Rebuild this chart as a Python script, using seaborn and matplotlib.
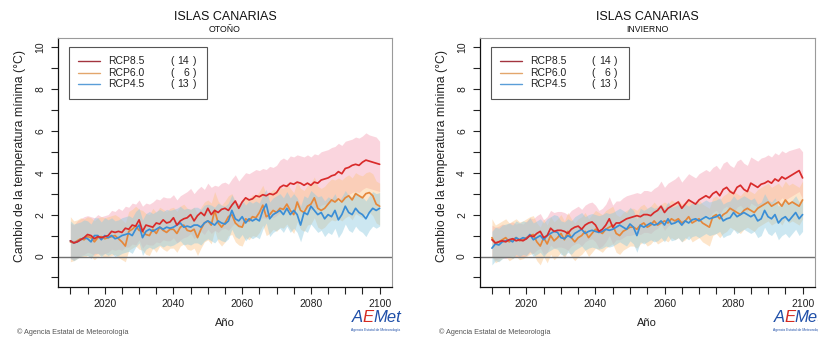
import numpy as np
import pandas as pd
import matplotlib
matplotlib.use("Agg")
import matplotlib.pyplot as plt
import seaborn as sns
from matplotlib.patches import Rectangle
from matplotlib.lines import Line2D

# ------------------------------------------------------------------ data
years = list(range(2010, 2101))
region = "ISLAS CANARIAS"
seasons = ["OTOÑO", "INVIERNO"]
scenarios = ["RCP8.5", "RCP6.0", "RCP4.5"]
n_models = [14, 6, 13]
x_ticks = [2020, 2040, 2060, 2080, 2100]
y_ticks = [0, 2, 4, 6, 8, 10]

# ---- OTOÑO (left)
m85_oto = [0.75,0.65,0.70,0.80,0.90,1.05,1.00,0.85,0.95,0.90,
           0.95,1.00,1.20,1.15,1.20,1.15,1.35,1.30,1.50,1.45,
           1.75,1.20,1.50,1.45,1.40,1.60,1.55,1.75,1.60,1.65,
           1.85,1.50,1.70,1.80,1.85,2.00,1.70,1.95,2.10,1.95,
           2.30,2.00,2.20,2.10,2.25,2.30,2.20,2.45,2.65,2.30,
           2.60,2.80,2.70,2.75,2.90,2.85,2.95,2.90,3.00,2.95,
           3.05,3.30,3.40,3.35,3.50,3.45,3.55,3.50,3.40,3.50,
           3.40,3.55,3.50,3.65,3.70,3.75,3.85,3.90,4.05,3.95,
           4.20,4.25,4.35,4.40,4.35,4.50,4.60,4.55,4.50,4.45,
           4.40]
m60_oto = [0.70,0.65,0.75,0.85,0.80,0.95,0.90,0.70,0.90,0.95,
           0.85,0.90,0.95,1.00,0.85,0.70,0.50,1.20,1.30,1.45,
           1.25,1.20,1.05,1.00,1.30,1.10,1.40,1.25,1.15,1.30,
           1.30,1.10,1.40,1.50,1.25,1.20,1.30,0.90,1.30,1.60,
           1.70,1.50,2.20,1.60,1.40,1.60,1.90,2.00,1.60,1.45,
           1.40,1.80,1.70,1.90,1.85,2.10,2.45,1.90,2.00,2.20,
           2.10,2.30,2.25,2.50,2.20,2.00,2.60,2.20,2.10,2.40,
           2.50,2.80,2.30,2.20,2.30,2.50,2.70,2.60,2.75,2.60,
           2.80,2.90,2.70,3.00,2.90,2.80,3.00,3.05,2.90,2.50,
           2.40]
m45_oto = [0.75,0.65,0.70,0.80,0.90,0.85,0.70,1.00,1.00,0.80,
           1.00,0.90,1.00,0.85,0.90,1.00,1.05,1.10,1.00,1.30,
           1.50,0.90,1.20,1.30,1.20,1.30,1.40,1.30,1.40,1.35,
           1.40,1.50,1.60,1.40,1.45,1.40,1.50,1.50,1.40,1.60,
           1.70,1.60,1.50,1.70,1.60,1.55,1.70,2.20,1.80,1.70,
           1.90,1.60,1.80,1.70,1.80,1.70,2.20,2.50,1.80,2.00,
           2.10,2.20,2.00,2.30,2.00,2.20,2.00,1.50,2.10,2.00,
           2.40,2.20,2.00,2.10,1.80,2.00,1.90,2.20,1.75,2.00,
           2.40,2.10,2.00,2.30,2.10,2.00,1.80,2.10,2.30,2.20,
           2.30]
hi85_oto = [1.60,1.50,1.70,1.80,1.90,1.95,1.90,1.85,2.00,1.90,
            1.95,2.00,2.20,2.15,2.30,2.20,2.40,2.35,2.55,2.50,
            2.70,2.40,2.55,2.50,2.60,2.75,2.70,2.85,2.80,2.80,
            2.95,2.70,2.90,3.00,3.10,3.25,3.00,3.20,3.35,3.20,
            3.50,3.30,3.40,3.35,3.50,3.55,3.45,3.70,3.90,3.60,
            3.80,4.00,3.95,4.05,4.15,4.10,4.20,4.15,4.30,4.25,
            4.35,4.60,4.70,4.60,4.80,4.75,4.85,4.80,4.75,4.85,
            4.75,4.90,4.85,5.00,5.05,5.10,5.20,5.25,5.40,5.30,
            5.50,5.55,5.60,5.70,5.65,5.75,5.90,5.80,5.75,5.70,
            5.50]
lo85_oto = [-0.10,-0.15,-0.05,0.05,0.10,0.20,0.15,0.05,0.15,0.10,
            0.15,0.20,0.35,0.30,0.35,0.30,0.45,0.45,0.60,0.55,
            0.80,0.40,0.60,0.55,0.55,0.70,0.65,0.80,0.75,0.75,
            0.90,0.65,0.80,0.90,0.95,1.10,0.85,1.05,1.20,1.05,
            1.30,1.10,1.25,1.15,1.30,1.35,1.25,1.45,1.60,1.35,
            1.55,1.70,1.65,1.70,1.80,1.75,1.85,1.80,1.90,1.85,
            1.95,2.10,2.20,2.15,2.30,2.25,2.35,2.30,2.20,2.30,
            2.20,2.35,2.30,2.45,2.50,2.50,2.60,2.65,2.80,2.70,
            2.90,2.95,3.05,3.10,3.05,3.20,3.30,3.25,3.20,3.15,
            3.10]
hi60_oto = [1.90,1.70,1.75,1.85,1.80,1.90,1.85,1.70,1.85,1.90,
            1.85,1.90,1.95,2.00,1.90,1.75,1.60,2.15,2.25,2.40,
            2.25,2.20,2.05,2.00,2.30,2.10,2.35,2.25,2.15,2.30,
            2.35,2.15,2.40,2.50,2.30,2.25,2.35,2.00,2.35,2.60,
            2.70,2.55,3.10,2.65,2.45,2.65,2.90,3.00,2.65,2.50,
            2.50,2.85,2.75,2.95,2.90,3.10,3.40,2.95,3.05,3.20,
            3.15,3.30,3.25,3.50,3.25,3.05,3.60,3.25,3.15,3.40,
            3.50,3.80,3.35,3.25,3.35,3.55,3.70,3.65,3.75,3.65,
            3.80,3.90,3.75,4.00,3.90,3.85,4.00,4.05,3.95,3.60,
            3.50]
lo60_oto = [-0.25,-0.20,-0.10,0.00,-0.05,0.05,0.00,-0.15,0.00,0.05,
            -0.05,0.00,0.05,0.10,-0.05,-0.15,-0.25,0.30,0.40,0.50,
            0.35,0.30,0.10,0.05,0.40,0.20,0.50,0.35,0.25,0.40,
            0.40,0.20,0.50,0.60,0.35,0.30,0.40,0.05,0.40,0.70,
            0.80,0.60,1.25,0.70,0.50,0.70,1.00,1.05,0.70,0.55,
            0.50,0.90,0.80,1.00,0.95,1.15,1.50,1.00,1.10,1.30,
            1.20,1.40,1.35,1.55,1.30,1.10,1.65,1.30,1.20,1.50,
            1.55,1.85,1.40,1.30,1.40,1.60,1.75,1.70,1.80,1.70,
            1.85,1.95,1.75,2.05,1.95,1.85,2.05,2.10,1.95,1.60,
            1.50]
hi45_oto = [1.70,1.55,1.60,1.65,1.75,1.70,1.55,1.85,1.85,1.65,
            1.85,1.75,1.85,1.70,1.75,1.85,1.90,1.95,1.85,2.15,
            2.30,1.75,2.05,2.15,2.05,2.15,2.25,2.15,2.25,2.20,
            2.25,2.30,2.40,2.25,2.30,2.25,2.35,2.35,2.25,2.45,
            2.50,2.45,2.35,2.55,2.45,2.40,2.55,2.95,2.60,2.50,
            2.70,2.45,2.65,2.55,2.65,2.55,2.95,3.20,2.60,2.80,
            2.90,3.00,2.80,3.10,2.80,3.00,2.80,2.40,2.90,2.80,
            3.15,3.00,2.85,2.90,2.65,2.85,2.75,3.00,2.60,2.85,
            3.15,2.90,2.85,3.10,2.90,2.85,2.65,2.90,3.10,3.00,
            3.05]
lo45_oto = [-0.10,-0.20,-0.10,0.00,0.05,0.05,-0.10,0.15,0.15,0.00,
            0.15,0.05,0.15,0.00,0.05,0.15,0.20,0.25,0.15,0.45,
            0.65,0.05,0.35,0.45,0.35,0.45,0.55,0.45,0.55,0.50,
            0.55,0.65,0.75,0.55,0.60,0.55,0.65,0.65,0.55,0.75,
            0.85,0.75,0.65,0.85,0.75,0.70,0.85,1.30,0.95,0.85,
            1.05,0.75,0.95,0.85,0.95,0.85,1.30,1.60,0.95,1.15,
            1.25,1.35,1.15,1.45,1.15,1.35,1.15,0.70,1.25,1.15,
            1.55,1.35,1.15,1.25,0.95,1.15,1.05,1.35,0.90,1.15,
            1.55,1.25,1.15,1.45,1.25,1.15,0.95,1.25,1.45,1.35,
            1.45]

# ---- INVIERNO (right)
m85_inv = [0.80,0.65,0.70,0.75,0.70,0.80,0.85,0.75,0.80,0.75,
           0.85,1.00,0.95,1.10,1.20,0.90,1.00,1.35,1.20,1.25,
           1.25,1.20,1.10,1.30,1.40,1.45,1.30,1.50,1.60,1.65,
           1.50,1.20,1.30,1.50,1.80,1.40,1.60,1.60,1.70,1.80,
           1.85,1.90,1.95,1.90,2.00,2.00,1.95,2.10,2.20,2.40,
           2.10,2.30,2.40,2.50,2.60,2.30,2.50,2.70,2.60,2.50,
           2.70,2.80,2.90,2.80,3.00,3.10,2.90,3.20,3.30,3.10,
           3.00,3.30,3.40,3.20,3.10,3.50,3.40,3.30,3.45,3.50,
           3.60,3.50,3.70,3.60,3.80,3.70,3.80,3.90,4.00,4.10,
           3.75]
m60_inv = [0.90,0.60,0.70,0.80,0.90,0.70,0.80,0.90,0.75,0.80,
           0.90,1.00,1.05,0.70,0.50,0.90,0.60,1.00,0.75,0.90,
           1.10,0.80,1.20,0.90,0.70,0.90,1.00,1.20,0.90,1.10,
           1.30,1.20,1.10,1.30,1.40,1.50,1.10,1.00,1.20,1.30,
           1.40,1.40,1.30,1.50,1.60,1.40,1.50,1.70,1.50,1.60,
           1.70,1.60,1.80,1.70,1.80,1.60,1.70,1.90,1.60,1.70,
           1.80,1.60,1.50,1.40,1.90,2.00,1.80,2.00,2.10,2.30,
           2.20,2.10,2.00,2.20,2.30,2.20,2.10,2.30,2.40,2.50,
           2.60,2.40,2.50,2.60,2.40,2.70,2.50,2.60,2.50,2.40,
           2.70]
m45_inv = [0.40,0.60,0.55,0.70,0.75,0.80,0.70,0.90,0.80,0.90,
           0.85,1.05,0.80,0.90,1.00,0.80,1.00,1.10,1.20,1.15,
           0.90,0.85,1.00,0.90,1.10,1.20,1.30,1.10,1.20,1.25,
           1.20,1.15,1.20,1.30,1.25,1.30,1.40,1.50,1.40,1.30,
           1.55,1.40,1.00,1.50,1.40,1.50,1.60,1.50,1.55,1.70,
           1.50,1.80,1.55,1.60,1.70,1.50,1.70,1.60,1.75,1.80,
           1.70,1.80,1.90,1.80,1.85,1.90,2.00,1.70,1.80,1.85,
           2.10,1.90,2.00,2.10,2.00,1.90,2.00,1.70,1.80,2.20,
           1.90,1.80,2.00,1.60,1.80,1.90,1.70,1.90,2.10,1.80,
           2.00]
hi85_inv = [1.50,1.40,1.45,1.55,1.50,1.60,1.65,1.55,1.60,1.55,
            1.70,1.85,1.80,1.95,2.05,1.75,1.90,2.20,2.10,2.15,
            2.15,2.10,2.00,2.20,2.30,2.40,2.25,2.45,2.55,2.60,
            2.45,2.20,2.30,2.50,2.85,2.45,2.65,2.65,2.80,2.90,
            2.95,3.00,3.05,3.00,3.15,3.15,3.10,3.25,3.35,3.60,
            3.30,3.50,3.60,3.70,3.85,3.55,3.75,3.95,3.85,3.75,
            3.95,4.05,4.15,4.05,4.25,4.35,4.15,4.45,4.55,4.35,
            4.25,4.55,4.65,4.45,4.35,4.75,4.65,4.55,4.70,4.75,
            4.85,4.75,4.95,4.85,5.05,4.95,5.05,5.10,5.15,5.20,
            5.00]
lo85_inv = [0.00,-0.15,-0.10,-0.05,-0.10,0.00,0.05,-0.05,0.00,-0.05,
            0.05,0.20,0.15,0.30,0.40,0.10,0.20,0.55,0.40,0.45,
            0.45,0.40,0.30,0.50,0.60,0.65,0.50,0.70,0.80,0.85,
            0.70,0.40,0.50,0.70,1.00,0.60,0.80,0.80,0.90,1.00,
            1.00,1.05,1.10,1.05,1.15,1.15,1.10,1.25,1.35,1.55,
            1.25,1.45,1.55,1.65,1.75,1.45,1.65,1.85,1.75,1.65,
            1.80,1.90,2.00,1.90,2.10,2.20,2.00,2.30,2.40,2.20,
            2.05,2.35,2.45,2.25,2.15,2.55,2.45,2.35,2.50,2.55,
            2.60,2.50,2.70,2.60,2.80,2.70,2.80,2.90,3.00,3.10,
            2.75]
hi60_inv = [1.80,1.50,1.60,1.70,1.80,1.60,1.70,1.80,1.65,1.70,
            1.80,1.90,1.95,1.60,1.40,1.80,1.50,1.90,1.65,1.80,
            2.00,1.70,2.10,1.80,1.60,1.80,1.90,2.10,1.80,2.00,
            2.20,2.10,2.00,2.20,2.30,2.40,2.00,1.90,2.10,2.20,
            2.30,2.30,2.20,2.40,2.50,2.30,2.40,2.60,2.40,2.50,
            2.60,2.50,2.70,2.60,2.70,2.50,2.60,2.80,2.50,2.60,
            2.70,2.50,2.40,2.30,2.80,2.90,2.70,2.90,3.00,3.20,
            3.10,3.00,2.90,3.10,3.20,3.10,3.00,3.20,3.30,3.40,
            3.50,3.30,3.40,3.50,3.30,3.60,3.40,3.50,3.40,3.30,
            3.60]
lo60_inv = [0.00,-0.30,-0.20,-0.10,0.00,-0.20,-0.10,0.00,-0.15,-0.10,
            0.00,0.10,0.15,-0.20,-0.40,0.00,-0.30,0.10,-0.15,0.00,
            0.20,-0.10,0.30,0.00,-0.20,0.00,0.10,0.30,0.00,0.20,
            0.40,0.30,0.20,0.40,0.50,0.60,0.20,0.10,0.30,0.40,
            0.50,0.50,0.40,0.60,0.70,0.50,0.60,0.80,0.60,0.70,
            0.80,0.70,0.90,0.80,0.90,0.70,0.80,1.00,0.70,0.80,
            0.90,0.70,0.60,0.50,1.00,1.10,0.90,1.10,1.20,1.40,
            1.30,1.20,1.10,1.30,1.40,1.30,1.20,1.40,1.50,1.60,
            1.70,1.50,1.60,1.70,1.50,1.80,1.60,1.70,1.60,1.50,
            1.80]
hi45_inv = [1.20,1.40,1.35,1.50,1.55,1.60,1.50,1.70,1.60,1.70,
            1.65,1.85,1.60,1.70,1.80,1.60,1.80,1.90,2.00,1.95,
            1.70,1.65,1.80,1.70,1.90,2.00,2.10,1.90,2.00,2.05,
            2.00,1.95,2.00,2.10,2.05,2.10,2.20,2.30,2.20,2.10,
            2.35,2.20,1.80,2.30,2.20,2.30,2.40,2.30,2.35,2.50,
            2.30,2.60,2.35,2.40,2.50,2.30,2.50,2.40,2.55,2.60,
            2.50,2.60,2.70,2.60,2.65,2.70,2.80,2.50,2.60,2.65,
            2.90,2.70,2.80,2.90,2.80,2.70,2.80,2.50,2.60,3.00,
            2.70,2.60,2.80,2.40,2.60,2.70,2.50,2.70,2.90,2.60,
            2.80]
lo45_inv = [-0.40,-0.20,-0.25,-0.10,-0.05,0.00,-0.10,0.10,0.00,0.10,
            0.05,0.25,0.00,0.10,0.20,0.00,0.20,0.30,0.40,0.35,
            0.10,0.05,0.20,0.10,0.30,0.40,0.50,0.30,0.40,0.45,
            0.40,0.35,0.40,0.50,0.45,0.50,0.60,0.70,0.60,0.50,
            0.75,0.60,0.20,0.70,0.60,0.70,0.80,0.70,0.75,0.90,
            0.70,1.00,0.75,0.80,0.90,0.70,0.90,0.80,0.95,1.00,
            0.90,1.00,1.10,1.00,1.05,1.10,1.20,0.90,1.00,1.05,
            1.30,1.10,1.20,1.30,1.20,1.10,1.20,0.90,1.00,1.40,
            1.10,1.00,1.20,0.80,1.00,1.10,0.90,1.10,1.30,1.00,
            1.20]

# ------------------------------------------------------------------ style
sns.set_style("ticks")
plt.rcParams['font.family'] = ['Liberation Sans', 'DejaVu Sans']

W, H = 818, 338
fig = plt.figure(figsize=(W / 100, H / 100), dpi=100)

line_cols = {"RCP8.5": "#D92B2B", "RCP6.0": "#E5873A", "RCP4.5": "#3A8ED6"}
band_cols = {"RCP8.5": "#F6A3B6", "RCP6.0": "#FCC68A", "RCP4.5": "#8FCBE0"}
leg_cols = {"RCP8.5": "#A3343F", "RCP6.0": "#E3A66C", "RCP4.5": "#5A9ED8"}

panels = [
    dict(season=seasons[0], left=58, right=392,
         means={"RCP8.5": m85_oto, "RCP6.0": m60_oto, "RCP4.5": m45_oto},
         lows={"RCP8.5": lo85_oto, "RCP6.0": lo60_oto, "RCP4.5": lo45_oto},
         highs={"RCP8.5": hi85_oto, "RCP6.0": hi60_oto, "RCP4.5": hi45_oto}),
    dict(season=seasons[1], left=479.5, right=815,
         means={"RCP8.5": m85_inv, "RCP6.0": m60_inv, "RCP4.5": m45_inv},
         lows={"RCP8.5": lo85_inv, "RCP6.0": lo60_inv, "RCP4.5": lo45_inv},
         highs={"RCP8.5": hi85_inv, "RCP6.0": hi60_inv, "RCP4.5": hi45_inv}),
]

top_px, bot_px = 37.7, 286.7


def ftext(x, y, s, **kw):
    fig.text(x / W, 1 - y / H, s, **kw)


for p in panels:
    L, R = p["left"], p["right"]
    ax = fig.add_axes([L / W, 1 - bot_px / H, (R - L) / W, (bot_px - top_px) / H])

    # bands
    for sc in scenarios:
        ax.fill_between(years, p["lows"][sc], p["highs"][sc],
                        color=band_cols[sc], alpha=0.45, linewidth=0)
    # lines
    rows = []
    for sc in scenarios:
        for yv, v in zip(years, p["means"][sc]):
            rows.append((yv, v, sc))
    df = pd.DataFrame(rows, columns=["year", "value", "scenario"])
    for sc in ["RCP6.0", "RCP4.5", "RCP8.5"]:
        sns.lineplot(data=df[df.scenario == sc], x="year", y="value", ax=ax,
                     color=line_cols[sc], linewidth=1.25, legend=False)

    ax.axhline(0, color="#707070", linewidth=1.0, zorder=1)

    ax.set_xlim(2006.4, 2103.6)
    ax.set_ylim(-1.44, 10.44)
    ax.set_xticks(list(range(2010, 2101, 5)))
    ax.set_xticklabels([str(t) if t in x_ticks else "" for t in range(2010, 2101, 5)])
    ax.set_yticks(list(range(-1, 11)))
    ax.set_yticklabels([str(t) if t in y_ticks else "" for t in range(-1, 11)],
                       rotation=90, va="center")
    ax.tick_params(axis="both", direction="out", length=5, width=0.8,
                   labelsize=7.5, colors="#222222", pad=4)
    ax.set_xlabel("")
    ax.set_ylabel("")
    for s in ["left", "bottom"]:
        ax.spines[s].set_color("#111111")
        ax.spines[s].set_linewidth(0.9)
    for s in ["top", "right"]:
        ax.spines[s].set_color("#9a9a9a")
        ax.spines[s].set_linewidth(0.8)
        ax.spines[s].set_visible(True)

    cx = (L + R) / 2
    ftext(cx, 17, region, ha="center", va="center", fontsize=9, color="#111111")
    ftext(cx, 29.5, p["season"], ha="center", va="center", fontsize=6.3, color="#111111")
    ftext(cx, 323, "Año", ha="center", va="center", fontsize=8, color="#222222")
    ftext(L - 38, 156, "Cambio de la temperatura mínima (°C)", ha="center", va="center",
          rotation=90, fontsize=8.8, color="#222222")
    ftext(L - 41, 332, "© Agencia Estatal de Meteorología", ha="left", va="center",
          fontsize=5.2, color="#555555")

    # legend box (decoration, figure pixel coords)
    dx = L - 58
    fig.patches.append(Rectangle(((69 + dx) / W, 1 - 99.3 / H), 138 / W, 52.6 / H,
                                 transform=fig.transFigure, fill=False,
                                 edgecolor="#555555", linewidth=0.8))
    for i, sc in enumerate(scenarios):
        yy = 60.7 + 11.8 * i
        fig.lines.append(Line2D([(78 + dx) / W, (100 + dx) / W], [1 - yy / H, 1 - yy / H],
                                transform=fig.transFigure, color=leg_cols[sc], linewidth=1.0))
        ftext(108.5 + dx, yy, sc, ha="left", va="center", fontsize=7.5, color="#222222")
        ftext(170 + dx, yy, "(", ha="left", va="center", fontsize=7.5, color="#222222")
        ftext(189 + dx, yy, str(n_models[i]), ha="right", va="center", fontsize=7.5, color="#222222")
        ftext(192.5 + dx, yy, ")", ha="left", va="center", fontsize=7.5, color="#222222")

    # logo
    lx = L + 294
    ftext(lx, 318, "A", ha="left", va="center", fontsize=12, color="#1f4fa8", style="italic")
    ftext(lx + 10.5, 318, "E", ha="left", va="center", fontsize=12, color="#d42a20", style="italic")
    ftext(lx + 21, 318, "Met", ha="left", va="center", fontsize=12, color="#1f4fa8", style="italic")
    ftext(lx + 24, 330.5, "Agencia Estatal de Meteorología", ha="center", va="center",
          fontsize=2.4, color="#1f4fa8")

fig.savefig("out.png", dpi=100)
